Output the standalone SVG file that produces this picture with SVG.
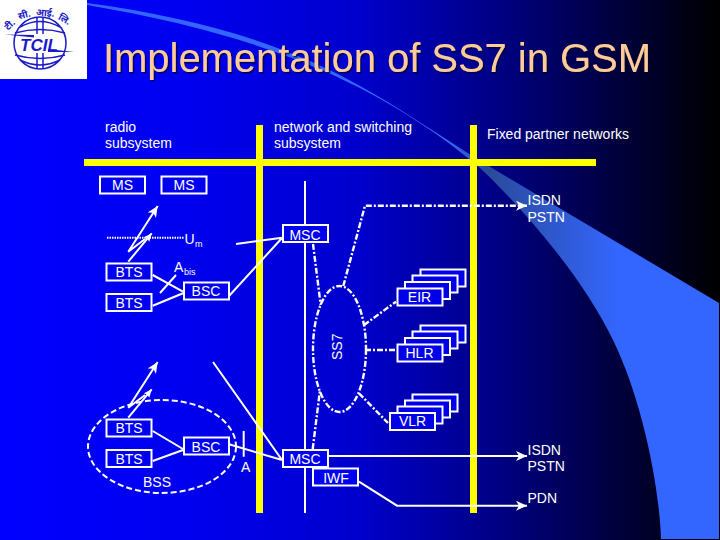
<svg xmlns="http://www.w3.org/2000/svg" width="720" height="540" viewBox="0 0 720 540">
<style>
text{font-family:"Liberation Sans",Arial,sans-serif;fill:#fff;font-size:14px}
.box{fill:#0000f0;stroke:#fff;stroke-width:2}
.stk{fill:#0000e8;stroke:#fff;stroke-width:2}
.l{fill:none;stroke:#fff;stroke-width:2}
.dd{fill:none;stroke:#fff;stroke-width:2.400;stroke-dasharray:6 2 2 2}
.bar{fill:#ffff00}
.c{text-anchor:middle}
.sub{font-size:9px}
text.hi{font-size:9.500px;font-weight:bold;fill:#1a1ac8;text-anchor:middle;font-family:'Noto Sans','Noto Sans Devanagari','Liberation Sans',sans-serif}
</style>
<defs>
<linearGradient id="bg" x1="0" y1="0" x2="1" y2="0">
<stop offset="0" stop-color="#0000ff"/><stop offset="0.25" stop-color="#0000f0"/><stop offset="0.5" stop-color="#0000cc"/><stop offset="0.7" stop-color="#000080"/><stop offset="0.85" stop-color="#000040"/><stop offset="1" stop-color="#000000"/>
</linearGradient>
<linearGradient id="sw" gradientUnits="userSpaceOnUse" x1="87" y1="0" x2="620" y2="0">
<stop offset="0" stop-color="#3366ff"/><stop offset="0.68" stop-color="#3366ff"/><stop offset="0.75" stop-color="#2a4a9a"/><stop offset="1" stop-color="#3366ff"/>
</linearGradient>
<marker id="ah" markerUnits="userSpaceOnUse" markerWidth="12" markerHeight="10" refX="11" refY="5" orient="auto">
<path d="M0 0L11 5L0 10L3 5Z" fill="#fff"/>
</marker>
<marker id="ah2" markerUnits="userSpaceOnUse" markerWidth="9" markerHeight="9" refX="8" refY="4.500" orient="auto">
<path d="M0 1L8 4.500L0 8L1 4.500Z" fill="#fff"/>
</marker>
<filter id="sh" x="-5%" y="-20%" width="110%" height="140%"><feDropShadow dx="1.500" dy="1.500" stdDeviation="0.600" flood-color="#000033" flood-opacity="0.800"/></filter>
</defs>
<rect width="720" height="540" fill="url(#bg)"/>
<path id="swoosh" d="M87 3C200 18 290 46 360 86C400 108 440 136 487 165L719 303V539H661C659 480 640 395 613 340C585 282 530 215 480 168C440 134 400 109 360 88C290 52 200 24 87 5Z" fill="url(#sw)"/>
<g id="logo">
<rect width="87" height="79" fill="#fff"/>
<g fill="none" stroke="#1a1ac8" stroke-width="1.500">
<circle cx="40" cy="43" r="26"/>
<path d="M37 18V34M43 18V34M37 53V68M43 53V68"/>
<path d="M20 27Q40 16 60 27M15 33Q40 26 65 33M15 55Q40 62 65 55M20 60Q40 70 60 60"/>
</g>
<path d="M5 34.500L34 35V37.500L5 34.500ZM48 49L74 52L48 52Z" fill="#1a1ac8"/>
<text x="20" y="51" style="font-size:17px;font-weight:bold;font-style:italic;fill:#1a1ac8">TCIL</text>
<text class="hi" x="12" y="27" transform="rotate(-45 12 27)">टी.</text>
<text class="hi" x="25" y="18" transform="rotate(-15 25 18)">सी.</text>
<text class="hi" x="45" y="16" transform="rotate(5 45 16)">आई.</text>
<text class="hi" x="63" y="22" transform="rotate(30 63 22)">लि.</text>
</g>
<text id="title" x="103" y="72" filter="url(#sh)" style="font-size:40px;fill:#ffcc99" textLength="548">Implementation of SS7 in GSM</text>
<g id="heads">
<text x="105" y="132">radio</text><text x="105" y="148">subsystem</text>
<text x="274" y="132" textLength="138">network and switching</text><text x="274" y="148">subsystem</text>
<text x="487" y="139" textLength="142">Fixed partner networks</text>
</g>
<g id="bars">
<rect class="bar" x="84" y="159" width="512" height="7"/>
<rect class="bar" x="256" y="125" width="7" height="388"/>
<rect class="bar" x="470" y="125" width="7" height="388"/>
</g>
<g id="connectors">
<path class="l" d="M305 181V513"/>
<path class="l" style="stroke-dasharray:1.500 1" d="M107 237.700H184"/>
<path class="l" d="M128.300 261.700L151.700 233.300" marker-end="url(#ah2)"/>
<path class="l" d="M145 239L128.300 251.700L157.700 206" marker-end="url(#ah)"/>
<path class="l" d="M160 293L176 275"/>
<path class="l" d="M152.700 275L183 291.700M152.700 305.700L183 293.300M229 296L282 238M236 244L282 237.700"/>
<path class="l" d="M128.300 417.700L151.700 389.300" marker-end="url(#ah2)"/>
<path class="l" d="M145 395L128.300 407.700L157.700 362" marker-end="url(#ah)"/>
<path class="l" d="M152.700 431L183 449M152.700 461L183 450M229 444.300L282 460M213 362L282 460M243.700 431V456.700"/>
<path class="l" d="M328 456H527" marker-end="url(#ah)"/>
<path class="l" d="M359 481.700L397 505.700H527" marker-end="url(#ah)"/>
<path class="dd" d="M343.300 286L365 205.700H527" marker-end="url(#ah)"/>
<path class="dd" d="M313 244L320.700 305M312.700 449L320 390M364 325L396 301.700M365 350H396M359 393.300L388 423"/>
<ellipse class="dd" cx="339.500" cy="349" rx="26.500" ry="63"/>
<ellipse cx="162" cy="446.500" rx="74" ry="46.500" fill="none" stroke="#fff" stroke-width="2" stroke-dasharray="6 3"/>
</g>
<g id="ms1"><rect class="box" x="100" y="176.500" width="45" height="17"/><text class="c" x="122.500" y="190">MS</text></g>
<g id="ms2"><rect class="box" x="161.500" y="176.500" width="45" height="17"/><text class="c" x="184" y="190">MS</text></g>
<g id="bts1"><rect class="box" x="106.500" y="263.500" width="45" height="17"/><text class="c" x="129" y="277">BTS</text></g>
<g id="bts2"><rect class="box" x="106.500" y="294" width="45" height="17"/><text class="c" x="129" y="308">BTS</text></g>
<g id="bsc1"><rect class="box" x="184" y="282.500" width="45" height="17"/><text class="c" x="206" y="296">BSC</text></g>
<g id="msc1"><rect class="box" x="283" y="225" width="45" height="17"/><text class="c" x="305" y="240">MSC</text></g>
<g id="bts3"><rect class="box" x="106.500" y="419.500" width="45" height="17"/><text class="c" x="129" y="433">BTS</text></g>
<g id="bts4"><rect class="box" x="106.500" y="450" width="45" height="17"/><text class="c" x="129" y="464">BTS</text></g>
<g id="bsc2"><rect class="box" x="184" y="437.500" width="45" height="17"/><text class="c" x="206" y="452">BSC</text></g>
<g id="msc2"><rect class="box" x="283" y="450" width="45" height="17"/><text class="c" x="305" y="464">MSC</text></g>
<g id="iwf"><rect class="box" x="313" y="468.500" width="45" height="17"/><text class="c" x="336" y="483">IWF</text></g>
<g id="eir">
<rect class="stk" x="420.500" y="269.500" width="45" height="17"/><rect class="stk" x="412.500" y="275.500" width="45" height="17"/><rect class="stk" x="405" y="282" width="45" height="17"/><rect class="stk" x="397.500" y="288.500" width="45" height="17"/>
<text class="c" x="419.500" y="302">EIR</text></g>
<g id="hlr">
<rect class="stk" x="420.500" y="325.500" width="45" height="17"/><rect class="stk" x="412.500" y="331.500" width="45" height="17"/><rect class="stk" x="405" y="338" width="45" height="17"/><rect class="stk" x="397.500" y="344.500" width="45" height="17"/>
<text class="c" x="419.500" y="358">HLR</text></g>
<g id="vlr">
<rect class="stk" x="412.500" y="394.500" width="45" height="17"/><rect class="stk" x="405" y="400.500" width="45" height="17"/><rect class="stk" x="397.500" y="406.500" width="45" height="17"/><rect class="stk" x="390" y="413" width="45" height="17"/>
<text class="c" x="412.500" y="426">VLR</text></g>
<g id="labels">
<text x="184.500" y="244">U</text><text class="sub" x="195" y="247">m</text>
<text x="174" y="272">A</text><text class="sub" x="184" y="275">bis</text>
<text x="241" y="472">A</text>
<text x="143" y="487">BSS</text>
<text x="342" y="360" transform="rotate(-90 342 360)">SS7</text>
<text x="527.500" y="205">ISDN</text><text x="527.500" y="222">PSTN</text>
<text x="527.500" y="455">ISDN</text><text x="527.500" y="471">PSTN</text>
<text x="527.500" y="503">PDN</text>
</g>
</svg>
